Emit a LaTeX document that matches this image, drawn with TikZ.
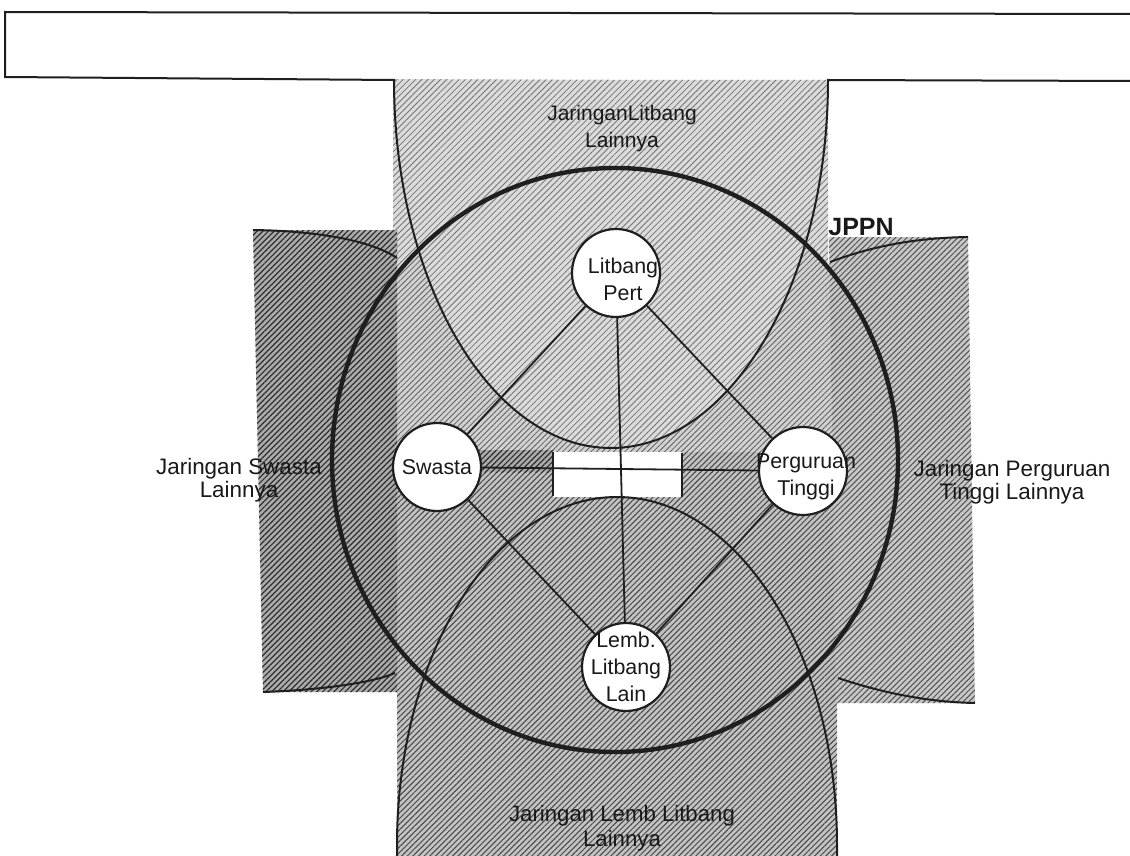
\documentclass[tikz,border=0pt]{standalone}
\usepackage{fontspec}
\setmainfont{Liberation Sans}
\usetikzlibrary{patterns.meta}
\tikzset{
  hatchtop/.style={preaction={fill=black!14}, pattern={Lines[angle=45,distance=2.2pt,line width=0.4pt]}, pattern color=black!55},
  hatchmid/.style={preaction={fill=black!18}, pattern={Lines[angle=45,distance=2pt,line width=0.42pt]}, pattern color=black!62},
  hatchbot/.style={preaction={fill=black!24}, pattern={Lines[angle=45,distance=2pt,line width=0.5pt]}, pattern color=black!72},
  hatchright/.style={preaction={fill=black!22}, pattern={Lines[angle=45,distance=2pt,line width=0.5pt]}, pattern color=black!68},
  hatchdark/.style={preaction={fill=black!33}, pattern={Lines[angle=45,distance=2pt,line width=0.6pt]}, pattern color=black!82},
  ln/.style={draw=black!88, line width=1pt},
  conn/.style={draw=black!88, line width=0.9pt},
  org/.style={circle, draw=black!88, line width=1.1pt, fill=white, minimum size=44pt, inner sep=0pt},
  orgtxt/.style={font=\fontsize{10.7}{13.5}\selectfont, align=center, inner sep=0pt, text=black!90},
  sidelbl/.style={font=\fontsize{11.2}{11.6}\selectfont, align=center, inner sep=0pt, anchor=north, text=black!90},
}
\begin{document}
\begin{tikzpicture}[x=0.5pt,y=-0.5pt]
\useasboundingbox (0,0) rectangle (1130,856);
\fill[white] (0,0) rectangle (1130,856);
% region fills
\path[hatchtop] (393,79) -- (828,81) -- (828,472) -- (393,472) -- cycle;
\path[hatchmid] (615,460) ellipse [x radius=141.5pt, y radius=146pt];
\path[hatchtop] (394,80) arc[start angle=180, end angle=360, x radius=108.5pt, y radius=184pt] -- cycle;
\path[hatchbot] (397,472) -- (837,472) -- (837,856) -- (397,856) -- cycle;
\path[hatchdark] (253,230) -- (397,230) -- (397,692) -- (263,692) -- cycle;
\path[hatchright] (829,237) -- (968,237) -- (975,703) -- (836,703) -- cycle;
\path[hatchdark] (470,450) rectangle (553,472);
\path[hatchbot] (682,452) rectangle (760,472);
% white box
\fill[white] (553,452) rectangle (682,497);
\draw[ln] (553,452) -- (553,496);
\draw[ln] (682,453) -- (682,497);
% banner and top network outline
\draw[ln] (1135,14) -- (5,12) -- (5,77) -- (394,80)
  arc[start angle=180, end angle=360, x radius=108.5pt, y radius=184pt] -- (1135,81);
% bottom network outline
\draw[ln] (397,856) -- (397,845) arc[start angle=180, end angle=0, x radius=110pt, y radius=174pt] -- (837,856);
% side network arcs
\draw[ln] (253,230) .. controls (320,231) and (372,241) .. (397,258);
\draw[ln] (263,692) .. controls (320,690) and (372,683) .. (395,673);
\draw[ln] (830,262) .. controls (862,250) and (905,238) .. (968,237);
\draw[ln] (838,678) .. controls (880,692) and (925,702) .. (975,703);
% JPPN circle
\draw[draw=black!88, line width=2.2pt] (615,460) ellipse [x radius=141.5pt, y radius=146pt];
% organisation nodes
\node[org, label={[orgtxt, xshift=3.5pt, yshift=-3pt]center:{Litbang\\Pert}}] (lp) at (616,273) {};
\node[org, label={[orgtxt]center:{Swasta}}] (sw) at (437,467) {};
\node[org, label={[orgtxt, xshift=1.5pt, yshift=-3pt]center:{Perguruan\\Tinggi}}] (pt) at (803,471) {};
\node[org, label={[orgtxt]center:{Lemb.\\Litbang\\Lain}}] (ll) at (626,667) {};
% connectors
\draw[conn] (lp) -- (sw);
\draw[conn] (lp) -- (pt);
\draw[conn] (lp) -- (ll);
\draw[conn] (sw) -- (ll);
\draw[conn] (pt) -- (ll);
\draw[conn] (sw) -- (pt);
% labels
\node[sidelbl, font=\fontsize{10.5}{13.5}\selectfont] (ltop) at (622,105) {JaringanLitbang\\Lainnya};
\node[sidelbl] (lleft) at (239,458) {Jaringan Swasta\\Lainnya};
\node[sidelbl] (lright) at (1012,460) {Jaringan Perguruan\\Tinggi Lainnya};
\node[sidelbl, font=\fontsize{11.1}{12.5}\selectfont] (lbot) at (622,805) {Jaringan Lemb Litbang\\Lainnya};
\node[font=\bfseries\fontsize{12.5}{15}\selectfont, anchor=base west, inner sep=0pt, text=black!90] (jppn) at (828,235) {JPPN};
\end{tikzpicture}
\end{document}
